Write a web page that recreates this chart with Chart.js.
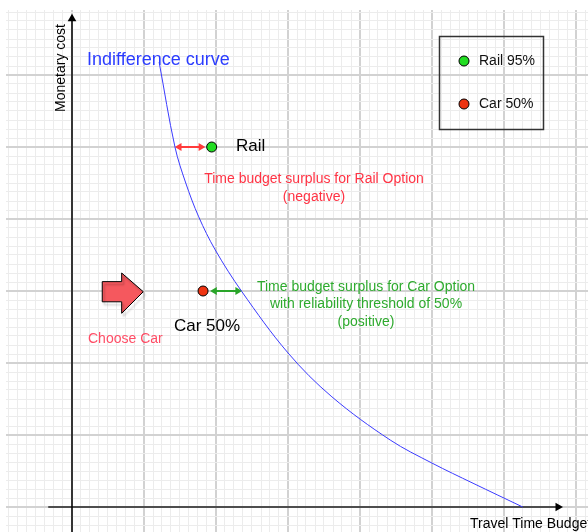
<!DOCTYPE html>
<html>
<head>
<meta charset="utf-8">
<script src="https://cdn.jsdelivr.net/npm/chart.js@4.4.1/dist/chart.umd.min.js"></script>
<style>
  html, body { margin: 0; padding: 0; background: #fff; }
  #wrap { width: 588px; height: 532px; }
</style>
</head>
<body>
<div id="wrap"><canvas id="chart"></canvas></div>
<script>
// curve and points, in grid units (1 unit = one big grid square), origin at the axes
const curveX = [1.21, 1.43, 1.58, 1.76, 1.99, 2.36, 3.00, 3.61, 4.42, 5.00, 5.57, 6.26];
const curveY = [6.18, 5.00, 4.50, 4.03, 3.57, 2.99, 2.14, 1.53, 0.93, 0.61, 0.33, 0.00];

const railPoint = { x: 1.94, y: 5.0 };
const carPoint = { x: 1.82, y: 3.0 };

// surplus arrows (start, end)
const railArrowX = [1.49, 1.79];
const railArrowY = [5.0, 5.0];
const carArrowX = [1.98, 2.30];
const carArrowY = [3.0, 3.0];

// "choose car" block arrow outline
const blockX = [0.42, 0.69, 0.69, 0.99, 0.69, 0.69, 0.42, 0.42];
const blockY = [3.13, 3.13, 3.25, 2.99, 2.69, 2.85, 2.85, 3.13];

// axis ends
const yAxisX = [0, 0];
const yAxisY = [-0.4, 6.78];
const xAxisX = [-0.33, 6.75];
const xAxisY = [0, 0];

const legendLabels = ["Rail 95%", "Car 50%"];
const legendColors = ["#22dd22", "#ee3311"];

function pts(xs, ys) {
  return xs.map((x, i) => ({ x: x, y: ys[i] }));
}

const FONT = "'Liberation Sans', Arial, Helvetica, sans-serif";

// draw the labels and the legend box on top
const textPlugin = {
  id: "texts",
  afterDatasetsDraw(chart) {
    const ctx = chart.ctx;
    ctx.save();
    ctx.textBaseline = "middle";

    function txt(s, x, y, size, color, align) {
      ctx.font = size + "px " + FONT;
      ctx.fillStyle = color;
      ctx.textAlign = align || "left";
      ctx.fillText(s, x, y);
    }

    // y axis title
    ctx.save();
    ctx.translate(61, 68);
    ctx.rotate(-Math.PI / 2);
    txt("Monetary cost", 0, 0, 14, "#000", "center");
    ctx.restore();

    txt("Indifference curve", 87, 60, 18, "#2b3cff");
    txt("Rail", 236, 146, 17, "#000");
    txt("Time budget surplus for Rail Option", 314, 179, 14, "#ff3344", "center");
    txt("(negative)", 314, 197, 14, "#ff3344", "center");
    txt("Time budget surplus for Car Option", 366, 287, 14, "#2eaa2e", "center");
    txt("with reliability threshold of 50%", 366, 304, 14, "#2eaa2e", "center");
    txt("(positive)", 366, 322, 14, "#2eaa2e", "center");
    txt("Car 50%", 174, 326, 17, "#000");
    txt("Choose Car", 88, 339, 14, "#ff4d66");
    txt("Travel Time Budget", 470, 524, 14, "#000");

    // legend box
    ctx.strokeStyle = "#333";
    ctx.lineWidth = 1.5;
    ctx.strokeRect(439.5, 36.5, 104, 93);
    legendLabels.forEach((label, i) => {
      const y = 61 + i * 43;
      ctx.beginPath();
      ctx.arc(464, y, 5, 0, Math.PI * 2);
      ctx.fillStyle = legendColors[i];
      ctx.fill();
      ctx.lineWidth = 1;
      ctx.strokeStyle = "#000";
      ctx.stroke();
      txt(label, 479, y, 14, "#111");
    });
    ctx.restore();
  }
};

// soft shadow under the block arrow
const shadowPlugin = {
  id: "shadow",
  beforeDatasetsDraw(chart) {
    chart.ctx.save();
  },
  beforeDatasetDraw(chart, args) {
    const ctx = chart.ctx;
    if (args.index === 0) {
      ctx.shadowColor = "rgba(0,0,0,0.25)";
      ctx.shadowOffsetX = 2;
      ctx.shadowOffsetY = 3;
      ctx.shadowBlur = 2;
    } else {
      ctx.shadowColor = "rgba(0,0,0,0)";
    }
  },
  afterDatasetsDraw(chart) {
    chart.ctx.restore();
  }
};

function gridTicks(scale) {
  const t = [];
  for (let v = Math.ceil(scale.min * 8); v <= Math.floor(scale.max * 8); v++) {
    t.push({ value: v / 8 });
  }
  scale.ticks = t;
}

function isMajor(c) {
  return c.tick && Math.abs(c.tick.value - Math.round(c.tick.value)) < 1e-6;
}

function gridOpts() {
  return {
    drawTicks: false,
    color: (c) => (isMajor(c) ? "#d2d2d2" : "#ececec"),
    lineWidth: (c) => (isMajor(c) ? 2 : 1)
  };
}

new Chart(document.getElementById("chart"), {
  type: "scatter",
  data: {
    datasets: [
      {
        // block arrow
        data: pts(blockX, blockY),
        showLine: true,
        fill: "shape",
        backgroundColor: "#f5585e",
        borderColor: "#000",
        borderWidth: 1,
        pointRadius: 0,
        tension: 0
      },
      {
        data: pts(curveX, curveY),
        showLine: true,
        borderColor: "#3b3bff",
        borderWidth: 1,
        pointRadius: 0,
        tension: 0.35
      },
      {
        data: pts(yAxisX, yAxisY),
        showLine: true,
        borderColor: "#000",
        backgroundColor: "#000",
        borderWidth: 1.5,
        pointStyle: "triangle",
        pointRadius: [0, 5],
        pointBorderWidth: 0,
        rotation: 0
      },
      {
        data: pts(xAxisX, xAxisY),
        showLine: true,
        borderColor: "#222",
        backgroundColor: "#000",
        borderWidth: 1.5,
        pointStyle: "triangle",
        pointRadius: [0, 5],
        pointBorderWidth: 0,
        rotation: 90
      },
      {
        data: pts(railArrowX, railArrowY),
        showLine: true,
        borderColor: "#ff3b3b",
        backgroundColor: "#ff3b3b",
        borderWidth: 2,
        pointStyle: "triangle",
        pointRadius: 4.5,
        pointBorderWidth: 0,
        rotation: [-90, 90]
      },
      {
        data: pts(carArrowX, carArrowY),
        showLine: true,
        borderColor: "#2aa52a",
        backgroundColor: "#2aa52a",
        borderWidth: 2,
        pointStyle: "triangle",
        pointRadius: 4.5,
        pointBorderWidth: 0,
        rotation: [-90, 90]
      },
      {
        data: [railPoint],
        pointRadius: 5,
        backgroundColor: legendColors[0],
        borderColor: "#000",
        pointBorderWidth: 1
      },
      {
        data: [carPoint],
        pointRadius: 5,
        backgroundColor: legendColors[1],
        borderColor: "#000",
        pointBorderWidth: 1
      }
    ]
  },
  options: {
    responsive: true,
    maintainAspectRatio: false,
    animation: false,
    layout: { autoPadding: false, padding: { left: 6, top: 10, right: 0, bottom: 0 } },
    plugins: {
      legend: { display: false },
      tooltip: { enabled: false }
    },
    scales: {
      x: {
        type: "linear",
        min: -66 / 72,
        max: 516 / 72,
        afterBuildTicks: gridTicks,
        afterFit: (s) => { s.height = 0; },
        ticks: { display: false },
        border: { display: false },
        grid: gridOpts()
      },
      y: {
        type: "linear",
        min: -25 / 72,
        max: 497 / 72,
        afterBuildTicks: gridTicks,
        afterFit: (s) => { s.width = 0; },
        ticks: { display: false },
        border: { display: false },
        grid: gridOpts()
      }
    }
  },
  plugins: [shadowPlugin, textPlugin]
});
</script>
</body>
</html>
